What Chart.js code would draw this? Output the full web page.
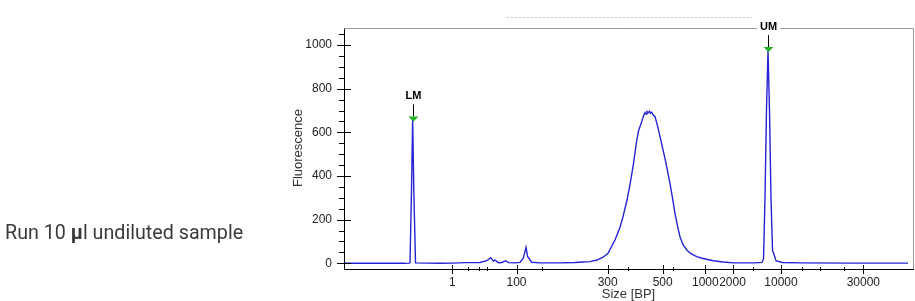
<!DOCTYPE html>
<html>
<head>
<meta charset="utf-8">
<script src="https://cdn.jsdelivr.net/npm/chart.js@4.4.1/dist/chart.umd.min.js"></script>
<style>
  html, body { margin: 0; padding: 0; background: #fff; }
  #wrap { position: relative; width: 915px; height: 301px; overflow: hidden; }
  #chart { position: absolute; left: 0; top: 0; }
  #note { position: absolute; left: 5px; top: 223px; font-family: Roboto, sans-serif; font-size: 19.7px; line-height: 19px; color: #3a3a3a; white-space: nowrap; }
</style>
</head>
<body>
<div id="wrap">
  <canvas id="chart" width="915" height="301"></canvas>
  <div id="note">Run 10 <b>µ</b>l undiluted sample</div>
</div>
<script>
// electropherogram trace, x = migration position (0..100 across the plot), y = fluorescence
const traceX = [0, 10.72, 11.51, 11.60, 11.86, 12.07, 12.27, 12.57, 16.87, 18.98, 21.27, 23.90, 25.08, 25.78,
  26.24, 26.54, 27.12, 27.77, 28.42, 28.88, 30.05, 30.93, 31.51, 31.99, 32.28, 32.99, 34.45, 37.96, 40.60,
  42.00, 43.23, 44.46, 45.52, 46.40, 47.63, 48.51, 49.03, 49.74, 50.26, 50.84, 51.32, 51.72, 52.32, 52.64,
  52.90, 53.08, 53.25, 53.48, 53.69, 53.87, 54.08, 54.31, 54.66, 55.10, 55.54, 55.98, 56.41, 56.85, 57.29,
  57.73, 58.17, 58.70, 59.05, 59.58, 60.23, 60.98, 61.99, 63.09, 64.90, 66.61, 68.42, 70.47, 72.23, 73.46,
  73.73, 73.99, 74.25, 74.52, 74.78, 75.04, 75.31, 75.57, 75.92, 76.98, 80.14, 88.93, 99.12];
const traceY = [0, 0, 1, 3, 330, 660, 330, 2, 0, 1, 3, 4, 12, 26,
  10, 15, 3, 4, 12, 3, 2, 4, 23, 73, 30, 5, 2, 2, 4,
  6, 8, 15, 28, 46, 107, 165, 213, 290, 360, 450, 540, 603, 649, 675,
  690, 684, 695, 690, 697, 688, 692, 680, 672, 630, 580, 530, 481, 425, 366,
  300, 229, 160, 122, 85, 61, 44, 31, 22, 12, 6, 2, 2, 2, 4,
  20, 300, 700, 975, 700, 300, 60, 40, 12, 4, 2, 1, 1];

// size ladder ticks (bp) and where they fall on the migration axis
const sizeLabels = ['1', '100', '300', '500', '1000', '2000', '10000', '30000'];
const sizeTickPos = [19.03, 30.32, 46.34, 56.01, 63.50, 68.28, 76.80, 91.27];
const minorTickPos = [21.79, 23.73, 25.13, 34.80, 49.91, 57.82, 71.88, 80.49, 83.66, 87.87];
const yTickValues = [0, 200, 400, 600, 800, 1000];

// lower / upper marker
const markerNames = ['LM', 'UM'];
const markerPos = [12.07, 74.52];
const markerVal = [650, 968];

const tickFont = { family: "'Liberation Sans Narrow', 'Liberation Sans', Arial, sans-serif", size: 12 };

const decor = {
  id: 'decor',
  afterDraw(chart) {
    const ctx = chart.ctx;
    const a = chart.chartArea;
    const xs = chart.scales.x, ys = chart.scales.y;
    ctx.save();

    // faint cut-off title line
    ctx.strokeStyle = '#c8c8c8';
    ctx.setLineDash([2, 2]);
    ctx.beginPath();
    ctx.moveTo(507, 17.5); ctx.lineTo(752, 17.5);
    ctx.stroke();
    ctx.setLineDash([]);

    // frame top and right
    ctx.strokeStyle = '#9a9a9a';
    ctx.lineWidth = 1;
    ctx.beginPath();
    ctx.moveTo(a.left, a.top + 0.5); ctx.lineTo(a.right + 0.5, a.top + 0.5);
    ctx.lineTo(a.right + 0.5, a.bottom);
    ctx.stroke();

    // y ticks
    ctx.strokeStyle = '#000';
    ctx.beginPath();
    for (let v = 0; v <= 1050; v += 50) {
      const y = Math.round(ys.getPixelForValue(v)) + 0.5;
      const major = yTickValues.includes(v);
      ctx.moveTo(a.left - (major ? 7 : 5), y);
      ctx.lineTo(a.left + (major ? 7 : 0), y);
    }
    // x ticks
    sizeTickPos.forEach(p => {
      const x = Math.round(xs.getPixelForValue(p)) + 0.5;
      ctx.moveTo(x, a.bottom - 4); ctx.lineTo(x, a.bottom + 5);
    });
    minorTickPos.forEach(p => {
      const x = Math.round(xs.getPixelForValue(p)) + 0.5;
      ctx.moveTo(x, a.bottom - 2); ctx.lineTo(x, a.bottom + 2);
    });
    ctx.stroke();

    // axis titles
    ctx.fillStyle = '#333';
    ctx.font = "13px 'Liberation Sans Narrow', 'Liberation Sans', Arial, sans-serif";
    ctx.textAlign = 'center';
    ctx.textBaseline = 'alphabetic';
    ctx.fillText('Size [BP]', (a.left + a.right) / 2, 298);
    ctx.save();
    ctx.translate(302, 148);
    ctx.rotate(-Math.PI / 2);
    ctx.fillText('Fluorescence', 0, 0);
    ctx.restore();

    // markers
    ctx.font = "bold 11px 'Liberation Sans', Arial, sans-serif";
    markerNames.forEach((name, i) => {
      const x = Math.round(xs.getPixelForValue(markerPos[i])) + 0.5;
      const y = ys.getPixelForValue(markerVal[i]);
      ctx.fillStyle = '#fff';
      const w = ctx.measureText(name).width + 6;
      ctx.fillRect(x - w / 2, y - 31, w, 11);
      ctx.fillStyle = '#000';
      ctx.fillText(name, x, y - 22);
      ctx.strokeStyle = '#000';
      ctx.beginPath();
      ctx.moveTo(x, y - 17); ctx.lineTo(x, y - 5);
      ctx.stroke();
      ctx.fillStyle = '#22b422';
      ctx.beginPath();
      ctx.moveTo(x - 5, y - 5); ctx.lineTo(x + 5, y - 5); ctx.lineTo(x, y);
      ctx.closePath();
      ctx.fill();
    });
    ctx.restore();
  }
};

new Chart(document.getElementById('chart').getContext('2d'), {
  type: 'line',
  data: {
    datasets: [{
      data: traceX.map((x, i) => ({ x: x, y: traceY[i] })),
      borderColor: '#2424d4',
      borderWidth: 1.4,
      pointRadius: 0,
      tension: 0,
      fill: false
    }]
  },
  options: {
    responsive: false,
    animation: false,
    layout: { padding: { left: 0, right: 2, top: 28, bottom: 0 } },
    plugins: { legend: { display: false }, tooltip: { enabled: false } },
    scales: {
      x: {
        type: 'linear', min: 0, max: 100,
        grid: { display: false, drawTicks: false },
        border: { display: true, color: '#000', width: 1 },
        ticks: {
          autoSkip: false, maxRotation: 0, padding: 6, color: '#222', font: tickFont,
          callback: (v, i) => sizeLabels[i]
        },
        afterBuildTicks: s => { s.ticks = sizeTickPos.map(v => ({ value: v })); },
        afterFit: s => { s.height = 32; }
      },
      y: {
        type: 'linear', min: -26, max: 1078,
        grid: { display: false, drawTicks: false },
        border: { display: true, color: '#000', width: 1 },
        ticks: { padding: 12, color: '#222', font: tickFont, callback: v => String(v) },
        afterBuildTicks: s => { s.ticks = yTickValues.map(v => ({ value: v })); },
        afterFit: s => { s.width = 344; }
      }
    }
  },
  plugins: [decor]
});
</script>
</body>
</html>
